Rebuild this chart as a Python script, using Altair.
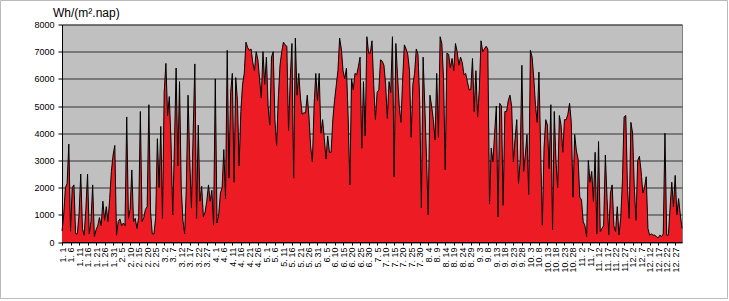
import datetime as dt
import altair as alt
import pandas as pd

# Daily irradiation, Wh/(m2.day)
jan = [400, 1000, 2000, 2150, 3600, 400, 2000, 2100, 300, 300,
       1000, 2500, 500, 250, 1200, 2500, 300, 750, 2100, 200,
       450, 600, 900, 600, 1500, 800, 1300, 750, 1600, 2600, 3200]
feb = [3550, 250, 750, 850, 600, 700, 600, 4600, 870, 1200,
       2650, 750, 870, 500, 900, 4800, 750, 900, 1200, 1300,
       5050, 1100, 300, 300, 900, 3800, 2000, 4250]
mar = [870, 5500, 6570, 4650, 5350, 3700, 1000, 3500, 6400, 2800,
       5900, 2000, 800, 300, 2000, 5400, 3000, 1250, 4000, 6550,
       870, 4300, 1500, 2050, 930, 1100, 1500, 2100, 1500, 1900, 620]
apr = [6000, 700, 1000, 1800, 2000, 3400, 1600, 7050, 2350, 5500,
       6200, 2200, 6050, 5200, 2800, 4800, 5800, 6200, 7350, 7150,
       7050, 7100, 6600, 6300, 7000, 6700, 6000, 5300, 7000, 5800]
may = [6800, 5000, 4300, 6800, 7000, 4500, 3550, 5300, 6500, 7000,
       7350, 7250, 7200, 4100, 6000, 7300, 2350, 7500, 5400, 6200,
       5300, 4700, 4750, 4750, 5400, 4600, 3500, 2950, 5000, 6200, 5200]
jun = [6200, 4000, 4500, 3800, 3050, 3900, 3300, 3300, 4500, 5200,
       5750, 6300, 7500, 7100, 6300, 6000, 6400, 4600, 2100, 6000,
       5600, 6200, 6150, 6450, 6800, 3450, 5900, 3900, 7550, 6950]
jul = [6950, 7400, 5800, 4500, 5500, 5600, 6700, 6650, 6500, 5800,
       4550, 5900, 5500, 7550, 2400, 7300, 6100, 5000, 4400, 6000,
       7250, 7100, 6900, 6300, 3850, 5800, 6200, 7100, 6900, 5200, 1250]
aug = [6800, 5000, 3100, 1000, 5400, 5000, 4500, 3750, 6200, 3850,
       7550, 7300, 6000, 2650, 6950, 6900, 6400, 6750, 6300, 7300,
       7000, 6500, 6800, 6600, 6150, 6200, 5900, 5600, 5600, 6750, 4800]
sep = [6300, 4600, 5600, 7400, 7000, 7100, 7200, 7100, 1400, 3450,
       2950, 4000, 5000, 930, 5100, 5000, 1350, 4800, 4800, 5200,
       5400, 5000, 2950, 3800, 4500, 2150, 3000, 6500, 2600, 3200]
oct_ = [3950, 1750, 7050, 6800, 6000, 5000, 4400, 6250, 3450, 620,
        3450, 4500, 4300, 2700, 5050, 440, 4800, 3000, 2000, 4650,
        4300, 3300, 4500, 4500, 4700, 5100, 4400, 1650, 3950, 3350, 3050]
nov = [1650, 1550, 750, 600, 200, 3000, 2200, 2600, 1500, 3300,
       300, 3700, 380, 500, 600, 3200, 1600, 260, 1800, 2100,
       600, 380, 1300, 260, 850, 2200, 4600, 4650, 2000, 870]
dec = [4400, 4000, 2000, 800, 3000, 3150, 2600, 1800, 2000, 2400,
       500, 250, 300, 250, 250, 200, 150, 250, 200, 300,
       4000, 250, 250, 1250, 2200, 1300, 2450, 1000, 1600, 1000, 500]

values = jan + feb + mar + apr + may + jun + jul + aug + sep + oct_ + nov + dec
start = dt.date(2023, 1, 1)
dates = [start + dt.timedelta(days=i) for i in range(len(values))]
labels = [f"{d.month}. {d.day}" for d in dates]
tick_labels = labels[::5]
y_ticks = [0, 1000, 2000, 3000, 4000, 5000, 6000, 7000, 8000]
unit_title = "Wh/(m².nap)"

df = pd.DataFrame({"date": labels, "value": values})
FONT = "Liberation Sans"

area = alt.Chart(df).mark_area(
    color="#ED1C24", opacity=1, fillOpacity=1, interpolate="linear",
    line={"color": "#000000", "strokeWidth": 1},
).encode(
    x=alt.X("date:N", sort=None,
            scale=alt.Scale(type="point", padding=0),
            axis=alt.Axis(values=tick_labels, labelAngle=-90, title=None,
                          labelOverlap=False, labelFlush=False, labelBound=False,
                          tickSize=3, labelPadding=2, labelFontSize=9,
                          labelFont=FONT, labelColor="#000000",
                          domainColor="#000000", tickColor="#000000")),
    y=alt.Y("value:Q",
            scale=alt.Scale(domain=[0, 8000], nice=False, zero=True),
            axis=alt.Axis(values=y_ticks, format="d", title=None, grid=True,
                          gridColor="#333333", gridWidth=1,
                          tickSize=4, labelPadding=4, labelFontSize=9,
                          labelFont=FONT, labelColor="#000000",
                          domainColor="#000000", tickColor="#000000")),
)

title_txt = alt.Chart(pd.DataFrame({"t": [unit_title]})).mark_text(
    align="left", baseline="alphabetic", fontSize=12, font=FONT, color="#000000"
).encode(text="t:N", x=alt.value(-9), y=alt.value(-7.5))

frame = alt.Chart(pd.DataFrame({"f": [0]})).mark_rect(
    fillOpacity=0, stroke="#BBBBBB", strokeWidth=1
).encode(x=alt.value(-61.5), x2=alt.value(665.5), y=alt.value(-24), y2=alt.value(274))

chart = alt.layer(area, title_txt, frame).properties(
    width=620, height=217.5,
    padding={"left": 62, "top": 24.5, "right": 47, "bottom": 59},
    autosize=alt.AutoSizeParams(type="none"),
    background="#FFFFFF",
).configure_view(fill="#C0C0C0", stroke="#808080", strokeWidth=1)

chart.save("out.html", embed_options={"renderer": "svg", "actions": False})
